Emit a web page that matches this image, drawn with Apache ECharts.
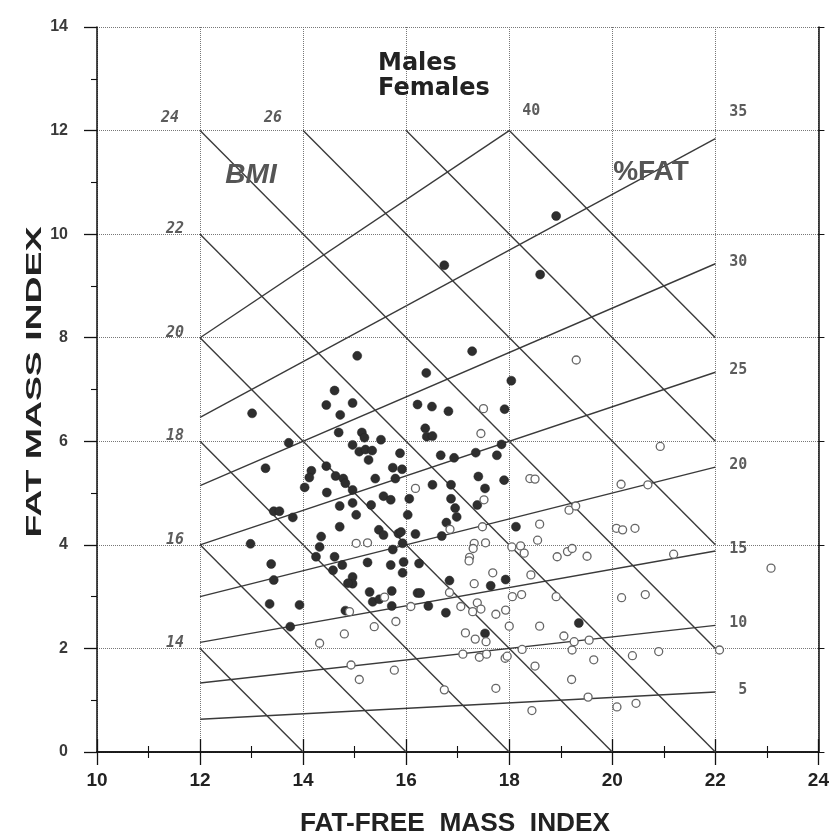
<!DOCTYPE html>
<html><head><meta charset="utf-8">
<script src="https://cdn.jsdelivr.net/npm/echarts@6/dist/echarts.min.js"></script>
<style>html,body{margin:0;padding:0;background:#fff}#c{width:832px;height:836px}</style>
</head><body><div id="c"></div>
<script>
// axis ranges / ticks
const xRange = [10, 24];
const yRange = [0, 14];
const tickStep = 2;
// reference line families
const bmiValues = [14, 16, 18, 20, 22, 24, 26, 28, 30];
const bmiLabelValues = [14, 16, 18, 20, 22, 24, 26];
const fatValues = [5, 10, 15, 20, 25, 30, 35, 40];
const refBox = { xMin: 12, xMax: 22, yMax: 12 };
// data: [fat-free mass index, fat mass index]
const males = [
  [18.91,10.35],[18.60,9.22],[16.74,9.40],[15.05,7.65],[17.28,7.74],[16.39,7.32],[18.04,7.17],
  [13.01,6.54],[13.72,5.97],[13.27,5.48],[14.16,5.43],[14.12,5.30],[14.03,5.11],[14.45,5.52],
  [14.63,5.33],[14.78,5.28],[14.82,5.19],[14.46,5.01],[13.43,4.65],[13.54,4.65],[13.80,4.53],
  [12.98,4.02],[14.35,4.16],[14.32,3.96],[14.25,3.77],[14.61,3.77],[14.71,4.35],[14.71,4.75],
  [14.61,6.98],[14.45,6.70],[14.72,6.51],[14.69,6.17],
  [14.96,6.74],[16.22,6.71],[16.50,6.67],[16.82,6.58],[17.91,6.62],[15.14,6.17],[15.19,6.07],
  [15.51,6.03],[16.37,6.25],[16.40,6.09],[16.51,6.10],[14.96,5.93],[15.09,5.80],[15.21,5.84],
  [15.34,5.82],[15.27,5.64],[15.88,5.77],[16.67,5.73],[16.93,5.68],[17.35,5.78],[17.76,5.73],
  [17.85,5.94],[15.74,5.49],[15.92,5.46],[15.79,5.28],[15.40,5.28],[17.40,5.32],[17.90,5.25],
  [16.51,5.16],[16.87,5.16],[17.53,5.09],[14.96,5.06],[15.56,4.94],[15.70,4.87],[16.06,4.89],
  [16.87,4.89],[17.38,4.77],[14.96,4.81],[15.03,4.58],[15.32,4.77],[16.03,4.58],[16.95,4.71],
  [16.98,4.54],[16.78,4.43],[15.47,4.29],[15.56,4.19],[15.85,4.22],[15.90,4.25],[16.18,4.21],
  [16.69,4.17],[18.13,4.35],[15.74,3.91],[15.93,4.03],
  [15.25,3.66],[15.70,3.61],[15.95,3.67],[16.25,3.64],[15.93,3.46],[14.96,3.38],[14.96,3.25],
  [15.29,3.09],[15.72,3.11],[16.22,3.07],[16.27,3.07],[15.35,2.90],[15.48,2.95],[15.72,2.82],
  [16.43,2.82],[16.77,2.69],[16.84,3.31],[17.64,3.21],[17.93,3.33],[17.53,2.29],[19.35,2.49],
  [13.38,3.63],[13.43,3.32],[13.35,2.86],[13.93,2.84],[13.75,2.42],[14.58,3.51],[14.76,3.61],
  [14.87,3.26],[14.82,2.73]
];
const females = [
  [19.30,7.57],[17.50,6.63],[17.45,6.15],[18.40,5.28],[18.50,5.27],[16.18,5.09],[17.51,4.87],
  [16.85,4.30],[17.48,4.35],[18.59,4.40],[19.16,4.67],[19.29,4.75],[18.55,4.09],[15.03,4.03],
  [15.25,4.04],[17.32,4.03],[17.30,3.93],[17.54,4.04],[18.05,3.96],[18.22,3.98],[18.29,3.84],
  [17.23,3.76],[18.93,3.77],[19.13,3.87],[19.22,3.93],
  [20.93,5.90],[20.17,5.17],[20.69,5.16],[20.08,4.32],[20.20,4.29],[20.44,4.32],[19.51,3.78],
  [21.19,3.82],
  [23.08,3.55],[20.18,2.98],[20.64,3.04],[19.55,2.16],[19.64,1.78],[20.39,1.86],[20.90,1.94],
  [22.08,1.97],[19.53,1.06],[20.09,0.87],[20.46,0.94],
  [17.22,3.69],[17.68,3.46],[18.42,3.42],[17.32,3.25],[16.84,3.08],[18.06,3.00],[18.24,3.04],
  [18.91,3.00],[15.58,2.99],[14.90,2.71],[16.09,2.81],[17.06,2.81],[17.38,2.88],[17.45,2.76],
  [17.29,2.71],[17.74,2.66],[17.93,2.74],[15.80,2.52],[15.38,2.42],[18.00,2.43],[18.59,2.43],
  [17.15,2.30],[17.34,2.18],[17.55,2.13],[17.10,1.89],[17.42,1.83],[17.56,1.89],[17.92,1.81],
  [17.96,1.85],[18.25,1.98],[19.06,2.24],[19.26,2.13],[19.22,1.97],[14.93,1.68],[15.77,1.58],
  [15.09,1.40],[18.50,1.66],[19.21,1.40],[16.74,1.20],[17.74,1.23],[18.44,0.80],
  [14.32,2.10],[14.80,2.28]
];

const chart = echarts.init(document.getElementById('c'), null, { renderer: 'canvas' });
const refLine = { color: '#3a3a3a', width: 1.4 };

// BMI iso-lines: FFMI + FMI = BMI, clipped to the reference box
function bmiSegment(b) {
  const x1 = Math.max(refBox.xMin, b - refBox.yMax);
  const x2 = Math.min(refBox.xMax, b);
  return [[x1, b - x1], [x2, b - x2]];
}
// %fat iso-lines: FMI = FFMI * p / (100 - p)
function fatSegment(p) {
  const k = p / (100 - p);
  const x2 = Math.min(refBox.xMax, refBox.yMax / k);
  return [[refBox.xMin, refBox.xMin * k], [x2, x2 * k]];
}

const series = [];
bmiValues.forEach(b => series.push({
  type: 'line', data: bmiSegment(b), symbol: 'none', silent: true, z: 2,
  lineStyle: refLine, animation: false
}));
fatValues.forEach(p => series.push({
  type: 'line', data: fatSegment(p), symbol: 'none', silent: true, z: 2,
  lineStyle: refLine, animation: false
}));

const bmiFont = { fontFamily: 'DejaVu Sans Mono', fontStyle: 'italic', fontWeight: 'bold', fontSize: 15, color: '#333' };
const fatFont = { fontFamily: 'DejaVu Sans Mono', fontWeight: 'bold', fontSize: 15, color: '#333' };

series.push({
  type: 'scatter', symbolSize: 0, silent: true, z: 3,
  data: bmiLabelValues.map(b => {
    const s = bmiSegment(b)[0];
    const top = s[1] >= refBox.yMax;
    return { value: s, name: String(b), label: { offset: top ? [-30, -12] : [-25, -5] } };
  }),
  label: Object.assign({ show: true, position: 'inside', formatter: '{b}' }, bmiFont)
});
series.push({
  type: 'scatter', symbolSize: 0, silent: true, z: 3,
  data: fatValues.map(p => {
    const e = fatSegment(p)[1];
    let lab;
    if (e[0] < refBox.xMax) lab = { offset: [22, -19], align: 'center' };
    else if (e[1] > refBox.yMax - 1) lab = { offset: [32, -26], align: 'right' };
    else lab = { offset: [32, -2], align: 'right' };
    return { value: e, name: String(p), label: lab };
  }),
  label: Object.assign({ show: true, position: 'inside', formatter: '{b}' }, fatFont)
});

series.push({
  name: 'Males', type: 'scatter', data: males, symbol: 'circle', symbolSize: 9, z: 5,
  itemStyle: { color: '#2e2e2e', borderColor: '#222', borderWidth: 0.5, opacity: 1 }
});
series.push({
  name: 'Females', type: 'scatter', data: females, symbol: 'circle', symbolSize: 8, z: 5,
  itemStyle: { color: '#fff', borderColor: '#666', borderWidth: 1.3, opacity: 1 }
});

const axisLine = { show: true, lineStyle: { color: '#111', width: 1.5 } };
const tick = { show: true, length: 13, lineStyle: { color: '#111', width: 1.3 } };
const minor = { show: true, splitNumber: 2, length: 6, lineStyle: { color: '#111', width: 1.1 } };
const split = { show: true, lineStyle: { type: 'dotted', color: '#777', width: 1 } };

chart.setOption({
  animation: false,
  backgroundColor: '#fff',
  grid: { left: 97, right: 12, top: 27, bottom: 84 },
  legend: {
    data: ['Males', 'Females'], orient: 'vertical', left: 368, top: 46,
    icon: 'none', itemWidth: 0, itemHeight: 26, itemGap: 0, selectedMode: false,
    textStyle: { fontFamily: 'DejaVu Sans', fontWeight: 'bold', fontSize: 24, color: '#222' }
  },
  xAxis: [
    { type: 'value', min: xRange[0], max: xRange[1], interval: tickStep, position: 'bottom',
      axisLine, axisTick: tick, minorTick: minor, splitLine: split,
      axisLabel: { fontFamily: 'Liberation Sans', fontWeight: 'bold', fontSize: 19, color: '#222', margin: 19 } },
    { type: 'value', min: xRange[0], max: xRange[1], interval: tickStep, position: 'top',
      axisLine, axisTick: tick, minorTick: minor, splitLine: { show: false }, axisLabel: { show: false } }
  ],
  yAxis: [
    { type: 'value', min: yRange[0], max: yRange[1], interval: tickStep, position: 'left',
      axisLine, axisTick: tick, minorTick: minor, splitLine: split,
      axisLabel: { fontFamily: 'Liberation Sans', fontWeight: 'bold', fontSize: 16, color: '#3a3a3a', margin: 29 } },
    { type: 'value', min: yRange[0], max: yRange[1], interval: tickStep, position: 'right',
      axisLine, axisTick: { show: true, length: 6, lineStyle: { color: '#111' } },
      minorTick: { show: false }, splitLine: { show: false }, axisLabel: { show: false } }
  ],
  series,
  graphic: [
    { type: 'text', x: 455, y: 824, scaleX: 1.05, z: 10,
      style: { text: 'FAT-FREE  MASS  INDEX', font: 'bold 25px "Liberation Sans"', fill: '#222', align: 'center', verticalAlign: 'middle' } },
    { type: 'text', x: 35, y: 382, rotation: Math.PI / 2, scaleX: 1.7, z: 10,
      style: { text: 'FAT MASS INDEX', font: 'bold 22px "Liberation Sans"', fill: '#222', align: 'center', verticalAlign: 'middle' } },
    { type: 'text', x: 251, y: 175, z: 10,
      style: { text: 'BMI', font: 'italic bold 28px "Liberation Sans"', fill: '#555', align: 'center', verticalAlign: 'middle' } },
    { type: 'text', x: 651, y: 172, z: 10,
      style: { text: '%FAT', font: 'bold 28px "Liberation Sans"', fill: '#555', align: 'center', verticalAlign: 'middle' } }
  ]
});
</script></body></html>
